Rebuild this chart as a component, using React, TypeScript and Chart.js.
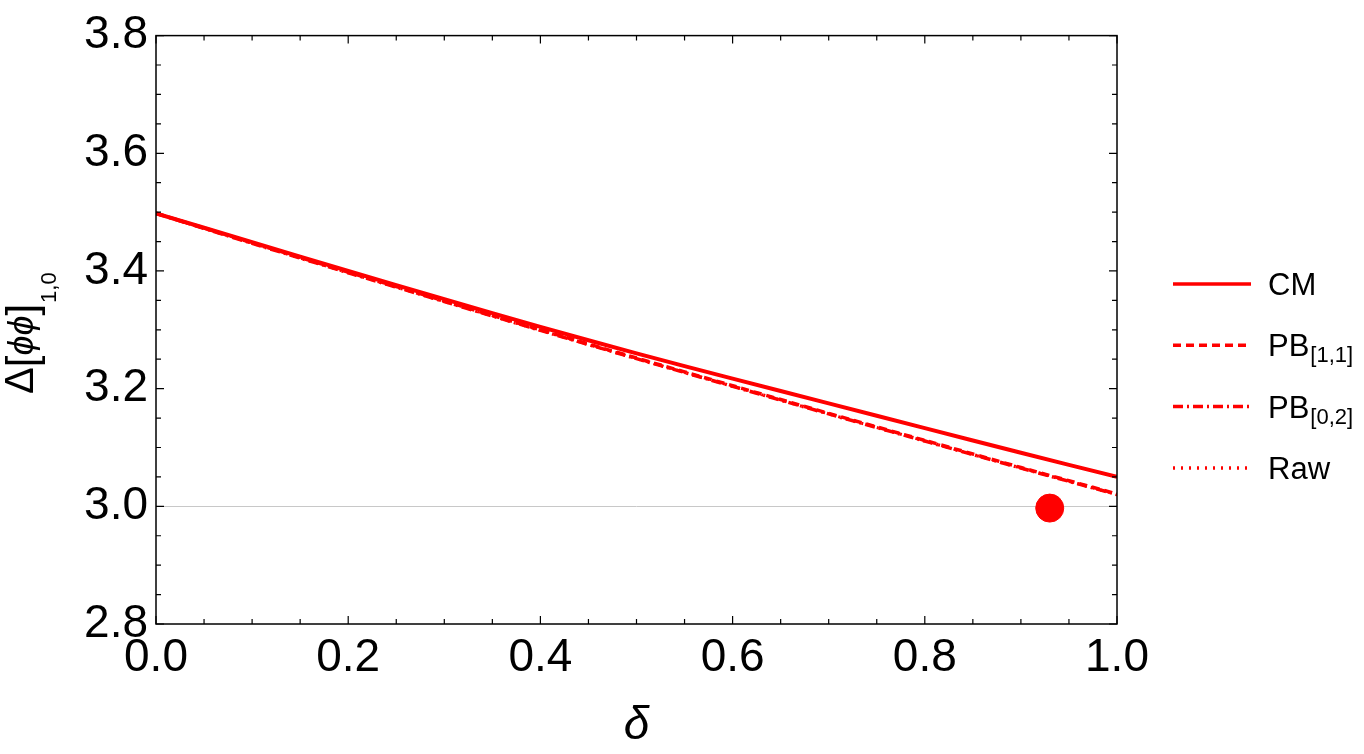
import React, { useEffect, useRef } from "react";
import { Chart, registerables } from "chart.js";

Chart.register(...registerables);

// ---- data ----
const deltaValues = [0, 0.1, 0.2, 0.3, 0.4, 0.5, 0.6, 0.7, 0.8, 0.9, 1.0];
const cmValues = [3.498, 3.449, 3.4, 3.352, 3.305, 3.26, 3.217, 3.175, 3.133, 3.091, 3.05];
const pb11Values = [3.498, 3.448, 3.398, 3.349, 3.3, 3.252, 3.205, 3.158, 3.112, 3.066, 3.021];
const pb02Values = [3.498, 3.447, 3.397, 3.348, 3.299, 3.251, 3.204, 3.157, 3.111, 3.065, 3.02];
const rawValues = [3.498, 3.447, 3.397, 3.348, 3.299, 3.251, 3.204, 3.157, 3.111, 3.065, 3.02];
const markerDelta = [0.93];
const markerValue = [2.997];

const legendMain = ["CM", "PB", "PB", "Raw"];
const legendSub = ["", "[1,1]", "[0,2]", ""];
const seriesDash = [[], [8, 5], [10, 4, 2, 4], [2, 6]];

const xTitle = "δ";
const yTitleMain = "Δ";
const yTitleOpen = "[";
const yTitlePhi = "ϕϕ";
const yTitleClose = "]";
const yTitleSub = "1,0";

const FONT = '"Liberation Sans", Arial, Helvetica, sans-serif';
const RED = "#ff0000";

const toPoints = (xs: number[], ys: number[]) => xs.map((x, i) => ({ x, y: ys[i] }));

const framePlugin = {
  id: "frameTicks",
  afterDraw(chart: any) {
    const { ctx, chartArea } = chart;
    const xs = chart.scales.x;
    const ys = chart.scales.y;
    const { left, right, top, bottom } = chartArea;
    ctx.save();
    ctx.strokeStyle = "#000";
    ctx.lineWidth = 1.5;
    ctx.strokeRect(left, top, right - left, bottom - top);
    ctx.lineWidth = 1.2;
    for (let i = 0; i <= 20; i++) {
      const v = i * 0.05;
      const px = xs.getPixelForValue(v);
      const len = i % 4 === 0 ? 8 : 5;
      ctx.beginPath();
      ctx.moveTo(px, bottom);
      ctx.lineTo(px, bottom - len);
      ctx.moveTo(px, top);
      ctx.lineTo(px, top + len);
      ctx.stroke();
    }
    for (let i = 0; i <= 20; i++) {
      const v = 2.8 + i * 0.05;
      const py = ys.getPixelForValue(v);
      const len = i % 4 === 0 ? 8 : 5;
      ctx.beginPath();
      ctx.moveTo(left, py);
      ctx.lineTo(left + len, py);
      ctx.moveTo(right, py);
      ctx.lineTo(right - len, py);
      ctx.stroke();
    }
    ctx.restore();

    // axis titles
    ctx.save();
    ctx.fillStyle = "#000";
    ctx.textBaseline = "alphabetic";
    ctx.textAlign = "center";
    ctx.font = `italic 46px ${FONT}`;
    ctx.fillText(xTitle, (left + right) / 2, 739);
    ctx.restore();

    ctx.save();
    ctx.fillStyle = "#000";
    ctx.textBaseline = "alphabetic";
    ctx.textAlign = "left";
    ctx.translate(33, 394);
    ctx.rotate(-Math.PI / 2);
    let x = 0;
    ctx.font = `40px ${FONT}`;
    ctx.fillText(yTitleMain, x, 0);
    x += ctx.measureText(yTitleMain).width;
    ctx.font = `42px ${FONT}`;
    ctx.fillText(yTitleOpen, x, 3);
    x += ctx.measureText(yTitleOpen).width;
    ctx.font = `italic 36px ${FONT}`;
    ctx.fillText(yTitlePhi, x, 0);
    x += ctx.measureText(yTitlePhi).width;
    ctx.font = `42px ${FONT}`;
    ctx.fillText(yTitleClose, x, 3);
    x += ctx.measureText(yTitleClose).width + 1;
    ctx.font = `22px ${FONT}`;
    ctx.fillText(yTitleSub, x, 23);
    ctx.restore();

    // legend
    ctx.save();
    const lx0 = 1173;
    const lx1 = 1251;
    const tx = 1268;
    chart.data.datasets.forEach((ds: any, i: number) => {
      if (i >= legendMain.length) return;
      const y = 284 + i * 61.3;
      ctx.strokeStyle = ds.borderColor;
      ctx.lineWidth = 3.5;
      ctx.setLineDash(ds.borderDash || []);
      ctx.beginPath();
      ctx.moveTo(lx0, y);
      ctx.lineTo(lx1, y);
      ctx.stroke();
      ctx.setLineDash([]);
      ctx.fillStyle = "#000";
      ctx.textAlign = "left";
      ctx.textBaseline = "alphabetic";
      ctx.font = `31px ${FONT}`;
      ctx.fillText(legendMain[i], tx, y + 11);
      const w = ctx.measureText(legendMain[i]).width;
      if (legendSub[i]) {
        ctx.font = `22px ${FONT}`;
        ctx.fillText(legendSub[i], tx + w + 1, y + 17);
      }
    });
    ctx.restore();
  },
};

export default function App() {
  const canvasRef = useRef<HTMLCanvasElement | null>(null);

  useEffect(() => {
    document.body.style.margin = "0";
    const canvas = canvasRef.current;
    if (!canvas) return;
    const lineDs = (label: string, ys: number[], dash: number[], width: number) => ({
      type: "line" as const,
      label,
      data: toPoints(deltaValues, ys),
      borderColor: RED,
      backgroundColor: RED,
      borderWidth: width,
      borderDash: dash,
      pointRadius: 0,
      tension: 0.3,
      fill: false,
    });
    const chart = new Chart(canvas, {
      type: "line",
      data: {
        datasets: [
          lineDs(legendMain[0] + legendSub[0], cmValues, seriesDash[0], 4),
          lineDs(legendMain[1] + legendSub[1], pb11Values, seriesDash[1], 3.5),
          lineDs(legendMain[2] + legendSub[2], pb02Values, seriesDash[2], 3.5),
          lineDs(legendMain[3] + legendSub[3], rawValues, seriesDash[3], 3),
          {
            type: "scatter" as const,
            label: "point",
            data: toPoints(markerDelta, markerValue),
            borderColor: RED,
            backgroundColor: RED,
            pointRadius: 14,
            pointHoverRadius: 14,
            showLine: false,
          } as any,
        ],
      },
      options: {
        responsive: false,
        devicePixelRatio: 1,
        animation: false,
        layout: { padding: { top: 29, right: 247, left: 0, bottom: 0 } },
        plugins: {
          legend: { display: false },
          tooltip: { enabled: false },
          title: { display: false },
        },
        scales: {
          x: {
            type: "linear",
            min: 0,
            max: 1,
            grid: { display: false, drawTicks: false },
            border: { display: false },
            afterFit: (s: any) => {
              s.height = 130;
            },
            ticks: {
              stepSize: 0.2,
              autoSkip: false,
              maxRotation: 0,
              padding: 7,
              color: "#000",
              font: { family: FONT, size: 46 },
              callback: (v: any) => Number(v).toFixed(1),
            },
          },
          y: {
            type: "linear",
            min: 2.8,
            max: 3.8,
            grid: {
              drawTicks: false,
              color: (c: any) =>
                c.tick && Math.abs(c.tick.value - 3) < 1e-6 ? "#c8c8c8" : "rgba(0,0,0,0)",
              lineWidth: 1,
            },
            border: { display: false },
            afterFit: (s: any) => {
              s.width = 156;
            },
            ticks: {
              stepSize: 0.2,
              padding: 8,
              color: "#000",
              font: { family: FONT, size: 46 },
              callback: (v: any) => Number(v).toFixed(1),
            },
          },
        },
      },
      plugins: [framePlugin],
    });
    return () => chart.destroy();
  }, []);

  return (
    <div style={{ width: 1364, height: 754 }}>
      <canvas ref={canvasRef} width={1364} height={754} style={{ display: "block" }} />
    </div>
  );
}
